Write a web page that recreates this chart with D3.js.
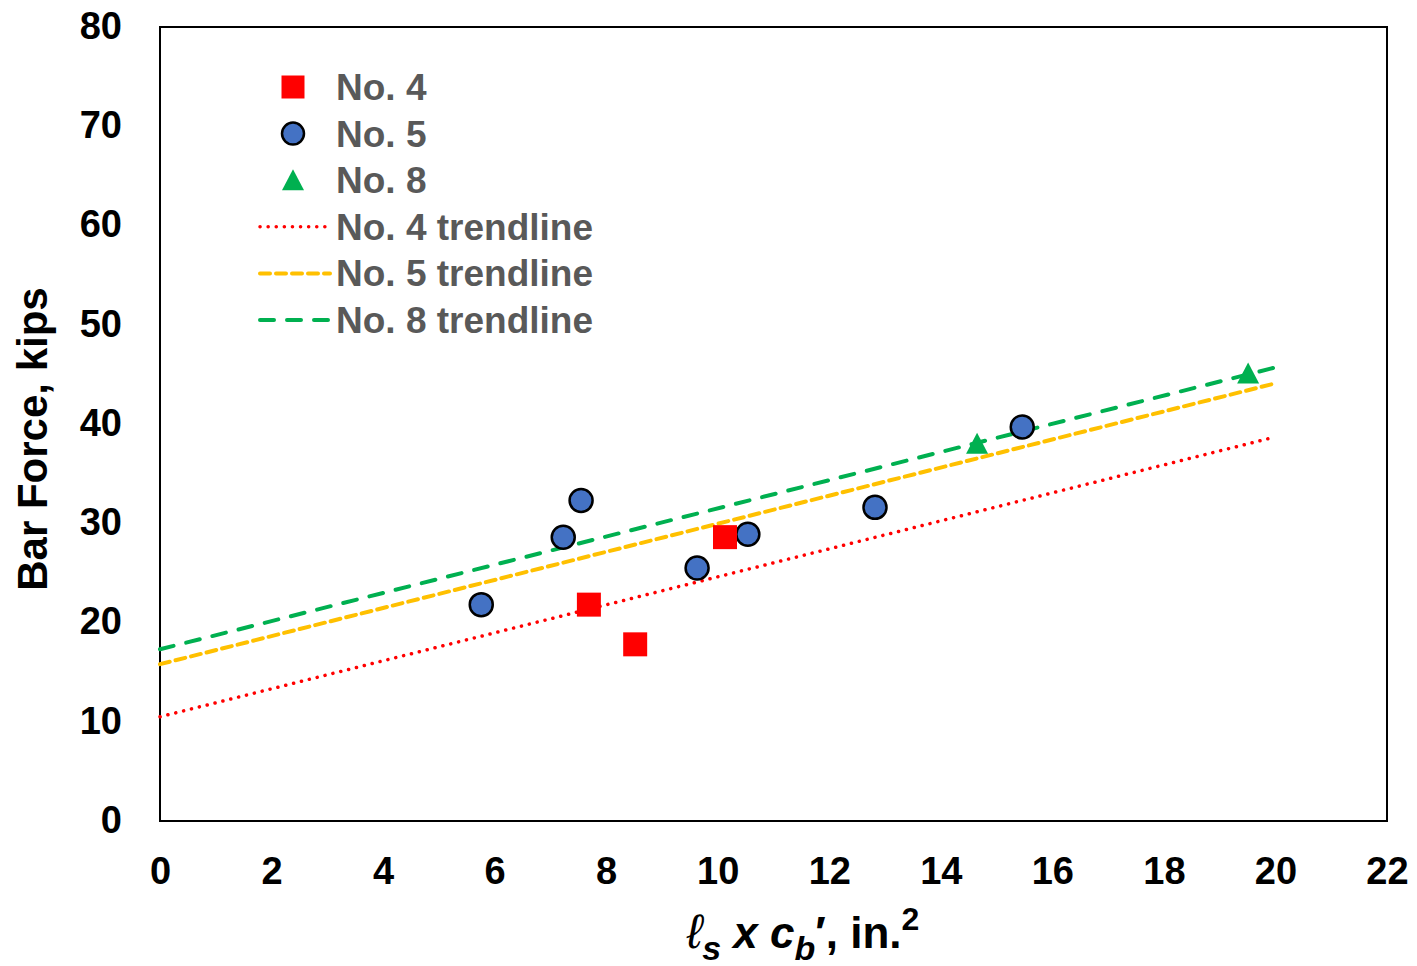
<!DOCTYPE html>
<html>
<head>
<meta charset="utf-8">
<script src="https://cdn.jsdelivr.net/npm/d3@7"></script>
<style>
  body { margin: 0; background: #fff; }
  svg { display: block; font-family: "Liberation Sans", Arial, sans-serif; font-weight: bold; }
</style>
</head>
<body>
<svg id="chart" width="1417" height="966"></svg>
<script>
// values
const no4X = [7.69, 8.52, 10.13];
const no4Y = [21.8, 17.8, 28.6];
const no5X = [5.76, 7.23, 7.55, 9.63, 10.54, 12.82, 15.46];
const no5Y = [21.8, 28.6, 32.3, 25.5, 28.9, 31.6, 39.7];
const no8X = [14.65, 19.51];
const no8Y = [38.0, 45.1];

// trendline ends at x = 0 and x = 20
const trendX = [0, 20];
const trend4Y = [10.5, 38.7];
const trend5Y = [15.8, 44.1];
const trend8Y = [17.3, 45.7];

const xTicks = [0, 2, 4, 6, 8, 10, 12, 14, 16, 18, 20, 22];
const yTicks = [0, 10, 20, 30, 40, 50, 60, 70, 80];

const RED = "#ff0000", BLUE = "#4472c4", GREEN = "#00b050", ORANGE = "#ffc000";

const svg = d3.select("#chart");
const plot = { left: 160, right: 1387, top: 27, bottom: 821 };

const x = d3.scaleLinear().domain([0, 22]).range([plot.left, plot.right]);
const y = d3.scaleLinear().domain([0, 80]).range([plot.bottom, plot.top]);

// frame
svg.append("rect")
  .attr("x", plot.left).attr("y", plot.top)
  .attr("width", plot.right - plot.left).attr("height", plot.bottom - plot.top)
  .attr("fill", "none").attr("stroke", "#000").attr("stroke-width", 2);

// axes, labels only
const xAxis = svg.append("g")
  .attr("transform", `translate(0,${plot.bottom})`)
  .call(d3.axisBottom(x).tickValues(xTicks).tickSize(0).tickPadding(38));
const yAxis = svg.append("g")
  .attr("transform", `translate(${plot.left},0)`)
  .call(d3.axisLeft(y).tickValues(yTicks).tickSize(0).tickPadding(38));
[xAxis, yAxis].forEach(g => {
  g.select(".domain").remove();
  g.selectAll("text")
    .attr("font-family", "Liberation Sans, Arial, sans-serif")
    .attr("font-weight", "bold")
    .attr("font-size", 38)
    .attr("fill", "#000");
});
xAxis.selectAll("text").attr("dy", "0.71em").attr("y", 36);
yAxis.selectAll("text").attr("dy", "0.3em");

// trendlines
const trends = [
  { ys: trend4Y, color: RED, dash: "0.1 8", width: 3.5, cap: "round" },
  { ys: trend5Y, color: ORANGE, dash: "10 6", width: 4, cap: "round" },
  { ys: trend8Y, color: GREEN, dash: "14 13", width: 4, cap: "round" }
];
const line = d3.line().x(d => x(d[0])).y(d => y(d[1]));
trends.forEach(t => {
  svg.append("path")
    .datum(trendX.map((v, i) => [v, t.ys[i]]))
    .attr("d", line)
    .attr("fill", "none")
    .attr("stroke", t.color)
    .attr("stroke-width", t.width)
    .attr("stroke-dasharray", t.dash)
    .attr("stroke-linecap", t.cap);
});

// markers
const sq = d3.symbol().type(d3.symbolSquare).size(576);
const triPath = "M0,-11L11,10L-11,10Z";

svg.append("g").selectAll("circle")
  .data(no5X.map((v, i) => [v, no5Y[i]]))
  .join("circle")
  .attr("cx", d => x(d[0])).attr("cy", d => y(d[1]))
  .attr("r", 11.5).attr("fill", BLUE).attr("stroke", "#000").attr("stroke-width", 2.5);

svg.append("g").selectAll("path")
  .data(no4X.map((v, i) => [v, no4Y[i]]))
  .join("path")
  .attr("d", sq)
  .attr("transform", d => `translate(${x(d[0])},${y(d[1])})`)
  .attr("fill", RED);

svg.append("g").selectAll("path")
  .data(no8X.map((v, i) => [v, no8Y[i]]))
  .join("path")
  .attr("d", triPath)
  .attr("transform", d => `translate(${x(d[0])},${y(d[1])})`)
  .attr("fill", GREEN);

// legend
const legendItems = [
  { label: "No. 4", kind: "square" },
  { label: "No. 5", kind: "circle" },
  { label: "No. 8", kind: "triangle" },
  { label: "No. 4 trendline", kind: "line", t: trends[0] },
  { label: "No. 5 trendline", kind: "line", t: trends[1] },
  { label: "No. 8 trendline", kind: "line", t: trends[2] }
];
const legend = svg.append("g");
legendItems.forEach((item, i) => {
  const cy = 87 + i * 46.6;
  const g = legend.append("g").attr("transform", `translate(0,${cy})`);
  if (item.kind === "square") {
    g.append("path").attr("d", d3.symbol().type(d3.symbolSquare).size(529)).attr("transform", "translate(293,0)").attr("fill", RED);
  } else if (item.kind === "circle") {
    g.append("circle").attr("cx", 293).attr("r", 11).attr("fill", BLUE).attr("stroke", "#000").attr("stroke-width", 2.5);
  } else if (item.kind === "triangle") {
    g.append("path").attr("d", triPath).attr("transform", "translate(293,0)").attr("fill", GREEN);
  } else {
    g.append("line").attr("x1", 260).attr("x2", 330)
      .attr("stroke", item.t.color).attr("stroke-width", item.t.width)
      .attr("stroke-dasharray", item.t.dash).attr("stroke-linecap", item.t.cap);
  }
  g.append("text").attr("x", 336).attr("dy", "0.35em")
    .attr("font-size", 37).attr("fill", "#595959").text(item.label);
});

// axis titles
svg.append("text")
  .attr("transform", "translate(47,439) rotate(-90)")
  .attr("text-anchor", "middle")
  .attr("font-size", 42).attr("fill", "#000")
  .text("Bar Force, kips");

const xt = svg.append("text")
  .attr("x", 803).attr("y", 948)
  .attr("text-anchor", "middle")
  .attr("font-size", 44).attr("fill", "#000");
xt.append("tspan").attr("font-style", "italic").attr("font-weight", "normal").attr("font-size", 48).text("ℓ");
xt.append("tspan").attr("font-style", "italic").attr("font-size", 34).attr("dy", 12).text("s");
xt.append("tspan").attr("font-style", "italic").attr("dy", -12).text(" x c");
xt.append("tspan").attr("font-style", "italic").attr("font-size", 34).attr("dy", 12).text("b");
xt.append("tspan").attr("dy", -12).text("′, in.");
xt.append("tspan").attr("font-size", 32).attr("dy", -18).text("2");
</script>
</body>
</html>
